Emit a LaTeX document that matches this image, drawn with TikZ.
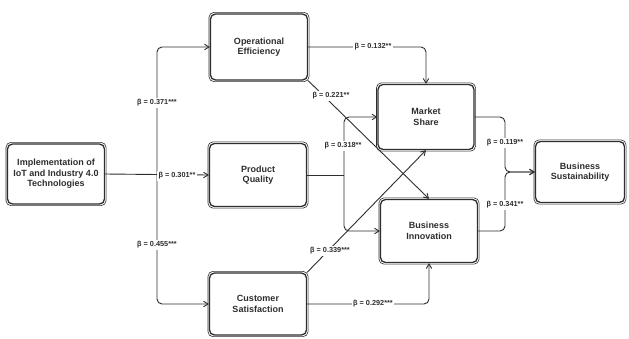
\documentclass[tikz,border=0pt]{standalone}
\usepackage{fontspec}
\setmainfont{Liberation Sans}
\usetikzlibrary{arrows.meta}
\definecolor{ink}{HTML}{2E2E2E}
\begin{document}
\begin{tikzpicture}[x=1pt,y=-1pt,
 box/.style={draw=ink, line width=1.3pt, rounded corners=5pt, minimum width=97pt, minimum height=63pt, align=center, inner sep=0.5pt, font=\bfseries\fontsize{9}{10.5}\selectfont, text=ink},
 lbl/.style={fill=white, font=\bfseries\fontsize{7.3}{8.5}\selectfont, text=ink, inner sep=1.5pt},
 conn/.style={draw=ink, line width=0.9pt, -{Straight Barb[length=4.5pt,width=5.5pt]}, rounded corners=5pt},
 plain/.style={draw=ink, line width=0.9pt, rounded corners=5pt}]
\useasboundingbox (0,0) rectangle (629,338);
\fill[white] (0,0) rectangle (629,338);

\node[box, minimum height=60pt] (impl) at (56,174) {Implementation of\\IoT and Industry 4.0\\Technologies};
\node[box, minimum height=66pt] (oe) at (259,47) {Operational\\Efficiency};
\node[box] (pq) at (258,175) {Product\\Quality};
\node[box, minimum height=62pt] (cs) at (258,304) {Customer\\Satisfaction};
\node[box, minimum width=96pt, minimum height=65pt] (ms) at (426,117) {Market\\Share};
\node[box] (bi) at (429,231) {Business\\Innovation};
\node[box, minimum width=89pt, minimum height=61pt] (bs) at (580,172) {Business\\Sustainability};

\foreach \n in {impl,oe,pq,cs,ms,bi,bs}
  \draw[ink, line width=0.6pt, rounded corners=5pt] ([shift={(-0.9,-1.0)}]\n.north west) rectangle ([shift={(0.9,1.0)}]\n.south east);

\coordinate (tr) at (157,175);
\coordinate (pj) at (344,175);
\coordinate (bj) at (505,172);

% Implementation -> first layer
\draw[conn] (impl.east) -- (pq.west);
\draw[conn] (tr) |- (oe.west);
\draw[conn] (tr) |- (cs.west);

% second layer
\draw[conn] (oe.east) -| (ms.north);
\draw[conn] (oe.south east) -- (bi.north);
\draw[plain] (pq.east) -- (pj);
\draw[conn] (pj) |- (ms.west);
\draw[conn] (pj) |- (bi.west);
\draw[conn] (cs.north east) -- (ms.south);
\draw[conn] (cs.east) -| (bi.south);

% to sustainability
\draw[conn] (ms.east) -| (bj) -- (bs.west);
\draw[conn] (bi.east) -| (bj) -- (bs.west);

% labels
\node[lbl] (l1) at (157,103) {β = 0.371***};
\node[lbl] (l2) at (177,176) {β = 0.301**};
\node[lbl] (l3) at (157,245) {β = 0.455***};
\node[lbl] (l4) at (373,47) {β = 0.132**};
\node[lbl] (l5) at (331,96) {β = 0.221**};
\node[lbl] (l6) at (343,146) {β = 0.318**};
\node[lbl] (l7) at (330,251) {β = 0.339***};
\node[lbl] (l8) at (373,304) {β = 0.292***};
\node[lbl] (l9) at (505,143) {β = 0.119**};
\node[lbl] (l10) at (505,205) {β = 0.341**};
\end{tikzpicture}
\end{document}
